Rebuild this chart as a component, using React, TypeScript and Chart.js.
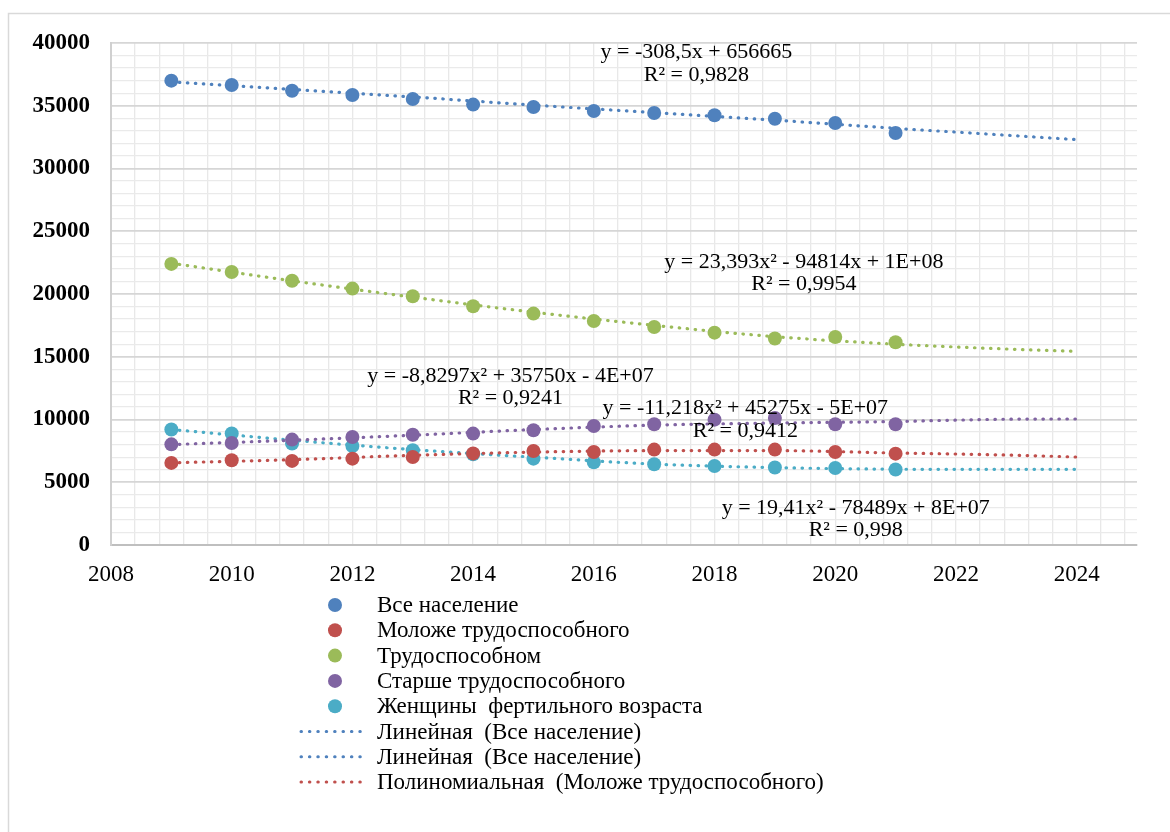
import { useEffect, useRef } from 'react';
import { Chart, registerables } from 'chart.js';

Chart.register(...registerables);

const SERIF = '"Liberation Serif", "Times New Roman", serif';

// ---- data ----
const YEARS = [2009, 2010, 2011, 2012, 2013, 2014, 2015, 2016, 2017, 2018, 2019, 2020, 2021];
const ALL_POPULATION = [37000, 36650, 36200, 35860, 35540, 35090, 34900, 34580, 34420, 34240, 33970, 33630, 32830];
const YOUNGER_THAN_WORKING = [6540, 6750, 6700, 6880, 7010, 7300, 7490, 7410, 7600, 7600, 7600, 7410, 7280];
const WORKING_AGE = [22400, 21750, 21050, 20430, 19820, 19020, 18440, 17850, 17370, 16920, 16450, 16570, 16150];
const OLDER_THAN_WORKING = [8020, 8130, 8400, 8600, 8780, 8875, 9140, 9480, 9620, 9990, 10120, 9620, 9620];
const FERTILE_WOMEN = [9200, 8880, 8080, 7890, 7550, 7230, 6880, 6590, 6430, 6300, 6170, 6140, 6010];

// trendlines
const TREND_YEARS = [2009, 2011, 2013, 2015, 2017, 2019, 2021, 2022, 2023, 2024];
const TREND_ALL = [36900, 36300, 35700, 35050, 34450, 33850, 33200, 32900, 32600, 32300];
const TREND_YOUNGER = [6550, 6800, 7150, 7400, 7520, 7520, 7330, 7250, 7150, 7010];
const TREND_WORKING = [22450, 21050, 19750, 18550, 17500, 16600, 16000, 15780, 15590, 15430];
const TREND_OLDER = [8000, 8350, 8750, 9200, 9550, 9720, 9840, 9950, 10030, 10040];
const TREND_WOMEN = [9200, 8350, 7600, 7000, 6450, 6170, 6040, 6030, 6030, 6030];

const SERIES_LABELS = [
  'Все население',
  'Моложе трудоспособного',
  'Трудоспособном',
  'Старше трудоспособного',
  'Женщины  фертильного возраста',
];
const TREND_LEGEND_LABELS = [
  'Линейная  (Все население)',
  'Линейная  (Все население)',
  'Полиномиальная  (Моложе трудоспособного)',
];

const X_TICK_LABELS = [2008, 2010, 2012, 2014, 2016, 2018, 2020, 2022, 2024];
const Y_TICK_LABELS = [0, 5000, 10000, 15000, 20000, 25000, 30000, 35000, 40000];

const EQUATION_TEXTS = [
  ['y = -308,5x + 656665', 'R² = 0,9828'],
  ['y = 23,393x² - 94814x + 1E+08', 'R² = 0,9954'],
  ['y = -8,8297x² + 35750x - 4E+07', 'R² = 0,9241'],
  ['y = -11,218x² + 45275x - 5E+07', 'R² = 0,9412'],
  ['y = 19,41x² - 78489x + 8E+07', 'R² = 0,998'],
];

// ---- styles / positions ----
const COLORS = ['#4F81BD', '#C0504D', '#9BBB59', '#8064A2', '#4BACC6'];
const TREND_LEGEND_COLORS = ['#4F81BD', '#4F81BD', '#C0504D'];
// anchor of each equation block (data coords): [x, y line1, y line2]
const EQUATION_ANCHORS = [
  [2017.7, 39300, 37450],
  [2019.48, 22550, 20800],
  [2014.62, 13410, 11690],
  [2018.51, 10890, 9030],
  [2020.34, 2920, 1200],
];

const X_GRID_STEP = 0.4;

export default function App() {
  const ref = useRef<HTMLCanvasElement>(null);

  useEffect(() => {
    const canvas = ref.current;
    if (!canvas) return;

    const seriesValues = [ALL_POPULATION, YOUNGER_THAN_WORKING, WORKING_AGE, OLDER_THAN_WORKING, FERTILE_WOMEN];
    const trendValues = [TREND_ALL, TREND_YOUNGER, TREND_WORKING, TREND_OLDER, TREND_WOMEN];

    const pointSets = seriesValues.map((vals, i) => ({
      type: 'scatter' as const,
      label: SERIES_LABELS[i],
      data: YEARS.map((x, k) => ({ x, y: vals[k] })),
      pointRadius: 7,
      pointHoverRadius: 7,
      pointBackgroundColor: COLORS[i],
      pointBorderWidth: 0,
      borderColor: COLORS[i],
      showLine: false,
      order: 1,
    }));

    const trendSets = trendValues.map((vals, i) => ({
      type: 'line' as const,
      label: 'trend ' + i,
      data: TREND_YEARS.map((x, k) => ({ x, y: vals[k] })),
      borderColor: COLORS[i],
      borderWidth: 3.2,
      borderDash: [0.5, 7.5],
      borderCapStyle: 'round' as const,
      pointRadius: 0,
      fill: false,
      showLine: true,
      cubicInterpolationMode: 'monotone' as const,
      order: 2,
    }));

    const framePlugin = {
      id: 'frame',
      beforeDraw(c: any) {
        const ctx = c.ctx;
        ctx.save();
        ctx.fillStyle = '#ffffff';
        ctx.fillRect(0, 0, c.width, c.height);
        ctx.strokeStyle = '#d9d9d9';
        ctx.lineWidth = 1.5;
        ctx.beginPath();
        ctx.moveTo(8.5, 832);
        ctx.lineTo(8.5, 13.5);
        ctx.lineTo(1170, 13.5);
        ctx.stroke();
        ctx.restore();
      },
    };

    const equationPlugin = {
      id: 'equations',
      afterDraw(c: any) {
        const ctx = c.ctx;
        const xs = c.scales.x;
        const ys = c.scales.y;
        ctx.save();
        ctx.font = `22px ${SERIF}`;
        ctx.fillStyle = '#000000';
        ctx.textAlign = 'center';
        ctx.textBaseline = 'middle';
        EQUATION_TEXTS.forEach((lines, i) => {
          const [ax, y1, y2] = EQUATION_ANCHORS[i];
          const px = xs.getPixelForValue(ax);
          ctx.fillText(lines[0], px, ys.getPixelForValue(y1));
          ctx.fillText(lines[1], px, ys.getPixelForValue(y2));
        });
        ctx.restore();
      },
    };

    const legendPlugin = {
      id: 'customLegend',
      afterDraw(c: any) {
        const ctx = c.ctx;
        const markerX = 335;
        const textX = 377;
        const top = 605;
        const rowH = 25.3;
        ctx.save();
        ctx.font = `23px ${SERIF}`;
        ctx.fillStyle = '#000000';
        ctx.textAlign = 'left';
        ctx.textBaseline = 'middle';
        SERIES_LABELS.forEach((label, i) => {
          const y = top + i * rowH;
          ctx.fillStyle = COLORS[i];
          ctx.beginPath();
          ctx.arc(markerX, y, 7, 0, Math.PI * 2);
          ctx.fill();
          ctx.fillStyle = '#000000';
          ctx.fillText(label, textX, y + 1);
        });
        TREND_LEGEND_LABELS.forEach((label, j) => {
          const y = top + (SERIES_LABELS.length + j) * rowH;
          ctx.strokeStyle = TREND_LEGEND_COLORS[j];
          ctx.lineWidth = 3;
          ctx.lineCap = 'round';
          ctx.setLineDash([0.5, 7.9]);
          ctx.beginPath();
          ctx.moveTo(301, y);
          ctx.lineTo(361, y);
          ctx.stroke();
          ctx.setLineDash([]);
          ctx.fillStyle = '#000000';
          ctx.fillText(label, textX, y + 1);
        });
        ctx.restore();
      },
    };

    const chart = new Chart(canvas, {
      type: 'scatter',
      data: { datasets: [...pointSets, ...trendSets] as any },
      options: {
        responsive: false,
        animation: false,
        devicePixelRatio: 1,
        layout: { padding: { left: 0, right: 33, top: 43, bottom: 242 } },
        plugins: {
          legend: { display: false },
          tooltip: { enabled: false },
        },
        scales: {
          x: {
            type: 'linear',
            min: 2008,
            max: 2025,
            afterBuildTicks: (s: any) => {
              const ticks = [];
              const n = Math.floor((s.max - s.min) / X_GRID_STEP + 1e-6);
              for (let i = 0; i <= n; i++) {
                const v = Math.round((s.min + i * X_GRID_STEP) * 10) / 10;
                if (v < s.max) ticks.push({ value: v });
              }
              s.ticks = ticks;
            },
            afterFit: (s: any) => {
              s.height = 45;
            },
            ticks: {
              autoSkip: false,
              maxRotation: 0,
              minRotation: 0,
              padding: 16,
              color: '#000000',
              font: { family: SERIF, size: 23 },
              callback: (v: any) => (X_TICK_LABELS.includes(Number(v)) ? String(v) : ''),
            },
            grid: { color: '#e8e8e8', lineWidth: 1.3, drawTicks: false },
            border: { color: '#bfbfbf', width: 2 },
          },
          y: {
            type: 'linear',
            min: 0,
            max: 40000,
            afterFit: (s: any) => {
              s.width = 111;
            },
            ticks: {
              stepSize: 1000,
              autoSkip: false,
              padding: 21,
              color: '#000000',
              font: { family: SERIF, size: 23, weight: 'bold' },
              callback: (v: any) => (Y_TICK_LABELS.includes(Number(v)) ? String(v) : ''),
            },
            grid: {
              drawTicks: false,
              color: (ctx: any) => (ctx.tick && ctx.tick.value % 5000 === 0 ? '#d6d6d6' : '#eaeaea'),
              lineWidth: (ctx: any) => (ctx.tick && ctx.tick.value % 5000 === 0 ? 1.7 : 1.3),
            },
            border: { color: '#d0d0d0', width: 2 },
          },
        },
      },
      plugins: [framePlugin, equationPlugin, legendPlugin],
    });

    return () => chart.destroy();
  }, []);

  return (
    <div style={{ position: 'fixed', left: 0, top: 0, width: 1170, height: 832, background: '#ffffff' }}>
      <canvas ref={ref} width={1170} height={832} style={{ display: 'block' }} />
    </div>
  );
}
